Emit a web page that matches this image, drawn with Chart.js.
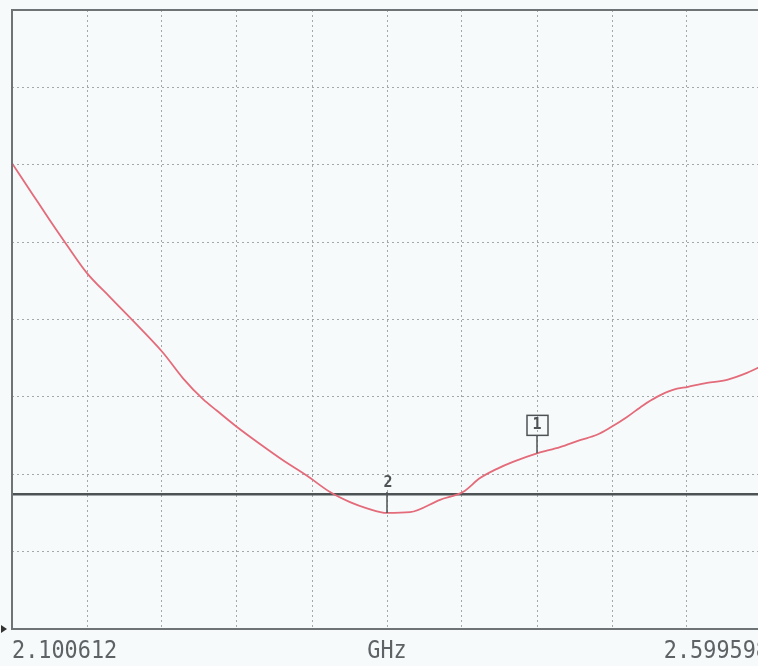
<!DOCTYPE html>
<html>
<head>
<meta charset="utf-8">
<script src="https://cdn.jsdelivr.net/npm/chart.js@4/dist/chart.umd.min.js"></script>
<style>
  html, body { margin: 0; padding: 0; background: #f7fafb; overflow: hidden; }
  canvas { display: block; }
</style>
</head>
<body>
<canvas id="trace" width="774" height="666"></canvas>
<script>

// Sweep limits (GHz), as printed under the screen
var startFreq = 2.100612;
var stopFreq = 2.599598;
var startLabel = '2.100612';
var unitLabel = 'GHz';
var stopLabel = '2.599598';

// Trace (level in grid divisions, 0 = bottom, 8 = top)
var freqGHz = [
  2.1006, 2.1146, 2.1259, 2.1372, 2.1505, 2.1658, 2.1838, 2.2011, 2.2144, 2.2277,
  2.2370, 2.2503, 2.2656, 2.2809, 2.2969, 2.3122, 2.3255, 2.3368, 2.3501, 2.3654,
  2.3854, 2.4006, 2.4120, 2.4233, 2.4339, 2.4499, 2.4652, 2.4785, 2.4898, 2.4984,
  2.5098, 2.5204, 2.5297, 2.5403, 2.5504, 2.5630, 2.5763, 2.5896, 2.5996
];
var level = [
  6.02, 5.61, 5.28, 4.96, 4.60, 4.29, 3.93, 3.57, 3.24, 2.97,
  2.82, 2.61, 2.39, 2.18, 1.98, 1.77, 1.64, 1.56, 1.50, 1.51,
  1.67, 1.77, 1.95, 2.07, 2.16, 2.27, 2.35, 2.44, 2.51, 2.60,
  2.74, 2.89, 3.00, 3.09, 3.13, 3.18, 3.22, 3.31, 3.40
];

// Limit line level
var limitLevel = 1.74;

// Markers: label and index of the trace point they sit on
var markerNames = ['1', '2'];
var markerIndex = [25, 18];
var markerBoxed = [true, false];

// Screen grid: 10 x 8 divisions
var xDivisions = 10;
var yTicks = [0, 1, 2, 3, 4, 5, 6, 7, 8];

var xTicks = [];
for (var i = 0; i <= xDivisions; i++) {
  xTicks.push(startFreq + (stopFreq - startFreq) * i / xDivisions);
}

var traceColor = '#e36b7a';
var inkColor = '#4d5254';
var gridColor = '#a3a8ab';

//
// Frame, sweep labels and marker flags
//
var analyzerPlugin = {
  id: 'analyzer',
  afterDatasetsDraw: function (chart) {
    var ctx = chart.ctx;
    var area = chart.chartArea;
    var xs = chart.scales.x;
    var ys = chart.scales.y;

    ctx.save();

    // frame
    ctx.strokeStyle = '#6e7376';
    ctx.lineWidth = 2;
    ctx.strokeRect(area.left, area.top, area.right - area.left, area.bottom - area.top);

    // little start arrow at the bottom left
    ctx.fillStyle = '#333';
    ctx.beginPath();
    ctx.moveTo(area.left - 11, area.bottom - 4);
    ctx.lineTo(area.left - 5, area.bottom);
    ctx.lineTo(area.left - 11, area.bottom + 4);
    ctx.closePath();
    ctx.fill();

    // markers
    ctx.strokeStyle = inkColor;
    ctx.fillStyle = inkColor;
    ctx.lineWidth = 1.5;
    markerNames.forEach(function (name, m) {
      var k = markerIndex[m];
      var px = Math.round(xs.getPixelForValue(freqGHz[k]));
      var py = ys.getPixelForValue(level[k]);
      ctx.textAlign = 'center';
      ctx.textBaseline = 'middle';
      ctx.font = 'bold 15px "DejaVu Sans Mono"';
      if (markerBoxed[m]) {
        ctx.beginPath();
        ctx.moveTo(px, py);
        ctx.lineTo(px, py - 18);
        ctx.stroke();
        ctx.strokeRect(px - 10, py - 38, 21, 20);
        ctx.fillText(name, px, py - 28);
      } else {
        ctx.beginPath();
        ctx.moveTo(px, py);
        ctx.lineTo(px, py - 21);
        ctx.stroke();
        ctx.fillText(name, px + 1, py - 30);
      }
    });

    // sweep labels
    ctx.fillStyle = '#5e6265';
    ctx.font = '21px "DejaVu Sans Mono"';
    ctx.textBaseline = 'alphabetic';
    var ty = area.bottom + 29;
    function label(text, x, align) {
      ctx.save();
      ctx.translate(x, ty);
      ctx.scale(1.04, 1.2);
      ctx.textAlign = align;
      ctx.fillText(text, 0, 0);
      ctx.restore();
    }
    label(startLabel, xs.getPixelForValue(startFreq), 'left');
    label(unitLabel, xs.getPixelForValue((startFreq + stopFreq) / 2), 'center');
    label(stopLabel, xs.getPixelForValue(stopFreq) + 7, 'right');

    ctx.restore();
  }
};

var tracePoints = freqGHz.map(function (f, i) {
  return { x: f, y: level[i] };
});

var chart = new Chart(document.getElementById('trace').getContext('2d'), {
  type: 'line',
  data: {
    datasets: [
      {
        data: tracePoints,
        borderColor: traceColor,
        borderWidth: 1.8,
        pointRadius: 0,
        cubicInterpolationMode: 'monotone',
        fill: false
      },
      {
        data: [{ x: startFreq, y: limitLevel }, { x: stopFreq, y: limitLevel }],
        borderColor: inkColor,
        borderWidth: 2.5,
        pointRadius: 0,
        fill: false
      }
    ]
  },
  options: {
    responsive: false,
    animation: false,
    layout: { padding: { left: 12, top: 10, right: 12, bottom: 37 } },
    plugins: {
      legend: { display: false },
      tooltip: { enabled: false }
    },
    scales: {
      x: {
        type: 'linear',
        min: startFreq,
        max: stopFreq,
        afterBuildTicks: function (scale) {
          scale.ticks = xTicks.map(function (v) { return { value: v }; });
        },
        ticks: { display: false },
        border: { display: false, dash: [2, 3] },
        grid: { color: gridColor, lineWidth: 1, drawTicks: false }
      },
      y: {
        type: 'linear',
        min: 0,
        max: 8,
        afterBuildTicks: function (scale) {
          scale.ticks = yTicks.map(function (v) { return { value: v }; });
        },
        ticks: { display: false },
        border: { display: false, dash: [2, 3] },
        grid: { color: gridColor, lineWidth: 1, drawTicks: false }
      }
    }
  },
  plugins: [analyzerPlugin]
});
</script>
</body>
</html>
